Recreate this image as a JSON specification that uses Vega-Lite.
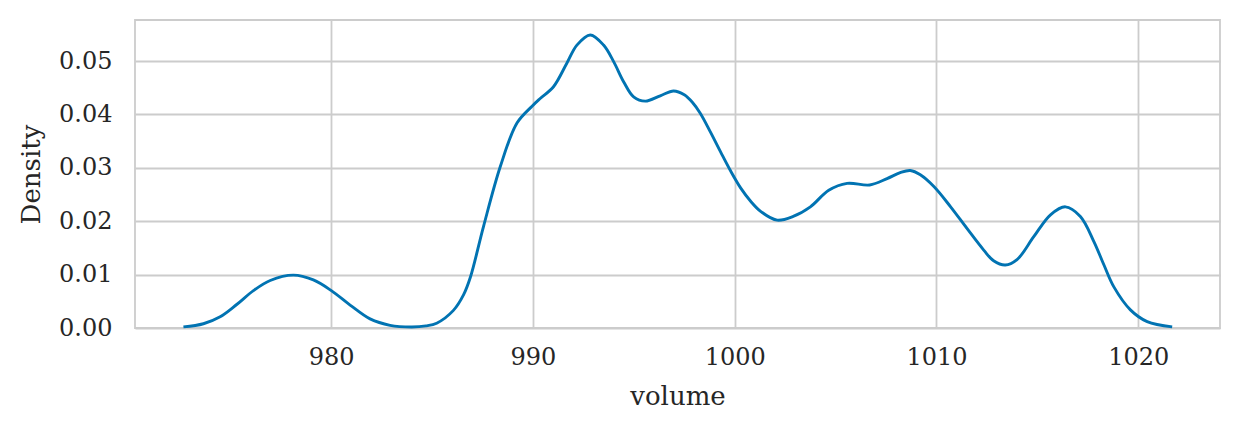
{
  "$schema": "https://vega.github.io/schema/vega-lite/v6.json",
  "width": 1085,
  "height": 308,
  "autosize": {"type": "none"},
  "padding": {"left": 135, "top": 20, "right": 20, "bottom": 104},
  "background": "white",
  "config": {
    "view": {"stroke": "#cccccc", "strokeWidth": 1.8},
    "font": "DejaVu Serif",
    "axis": {
      "domain": false,
      "ticks": false,
      "gridColor": "#cccccc",
      "gridWidth": 1.8,
      "labelFont": "DejaVu Serif",
      "labelFontSize": 24,
      "labelColor": "#262626",
      "titleFont": "DejaVu Serif",
      "titleFontSize": 26,
      "titleColor": "#262626",
      "titleFontWeight": "normal"
    }
  },
  "data": {
    "values": [
      {"volume": 972.68, "density": 0.0002},
      {"volume": 973.67, "density": 0.0008},
      {"volume": 974.5, "density": 0.0021},
      {"volume": 975.32, "density": 0.0044},
      {"volume": 976.15, "density": 0.007},
      {"volume": 976.98, "density": 0.0089},
      {"volume": 978.13, "density": 0.0099},
      {"volume": 979.12, "density": 0.009},
      {"volume": 980.01, "density": 0.007},
      {"volume": 980.94, "density": 0.0043},
      {"volume": 981.93, "density": 0.0017},
      {"volume": 982.92, "density": 0.0005},
      {"volume": 984.0, "density": 0.0002},
      {"volume": 984.7, "density": 0.0004},
      {"volume": 985.23, "density": 0.0009},
      {"volume": 986.06, "density": 0.0033},
      {"volume": 986.56, "density": 0.0062},
      {"volume": 986.9, "density": 0.0095},
      {"volume": 987.55, "density": 0.019},
      {"volume": 988.38, "density": 0.0302},
      {"volume": 989.21, "density": 0.0384},
      {"volume": 989.97, "density": 0.0416},
      {"volume": 990.36, "density": 0.043},
      {"volume": 991.02, "density": 0.0452},
      {"volume": 991.68, "density": 0.0496},
      {"volume": 992.18, "density": 0.053},
      {"volume": 992.84, "density": 0.0549},
      {"volume": 993.5, "density": 0.053},
      {"volume": 994.0, "density": 0.0499},
      {"volume": 994.5, "density": 0.0461},
      {"volume": 994.99, "density": 0.0433},
      {"volume": 995.57, "density": 0.0425},
      {"volume": 996.31, "density": 0.0435},
      {"volume": 996.97, "density": 0.0444},
      {"volume": 997.5, "density": 0.0437},
      {"volume": 997.9, "density": 0.0423},
      {"volume": 998.3, "density": 0.0402},
      {"volume": 998.8, "density": 0.0367},
      {"volume": 999.3, "density": 0.033},
      {"volume": 999.8, "density": 0.0294},
      {"volume": 1000.3, "density": 0.0262},
      {"volume": 1000.8, "density": 0.0237},
      {"volume": 1001.3, "density": 0.0218},
      {"volume": 1002.1, "density": 0.0202},
      {"volume": 1002.9, "density": 0.0209},
      {"volume": 1003.75, "density": 0.0227},
      {"volume": 1004.66, "density": 0.0258},
      {"volume": 1005.57, "density": 0.0271},
      {"volume": 1006.69, "density": 0.0268},
      {"volume": 1007.55, "density": 0.028},
      {"volume": 1008.2, "density": 0.0291},
      {"volume": 1008.7, "density": 0.0295},
      {"volume": 1009.2, "density": 0.0287},
      {"volume": 1009.87, "density": 0.0265},
      {"volume": 1010.7, "density": 0.0227},
      {"volume": 1011.5, "density": 0.0187},
      {"volume": 1012.34, "density": 0.0146},
      {"volume": 1012.83, "density": 0.0126},
      {"volume": 1013.41, "density": 0.0118},
      {"volume": 1013.99, "density": 0.0128},
      {"volume": 1014.82, "density": 0.0171},
      {"volume": 1015.65, "density": 0.0212},
      {"volume": 1016.39, "density": 0.0227},
      {"volume": 1017.13, "density": 0.0209},
      {"volume": 1017.8, "density": 0.0162},
      {"volume": 1018.3, "density": 0.0118},
      {"volume": 1018.79, "density": 0.0077},
      {"volume": 1019.61, "density": 0.0034},
      {"volume": 1020.44, "density": 0.0012},
      {"volume": 1021.68, "density": 0.0002}
    ]
  },
  "mark": {"type": "line", "color": "#0173b2", "strokeWidth": 2.9, "interpolate": "catmull-rom"},
  "encoding": {
    "x": {
      "field": "volume",
      "type": "quantitative",
      "scale": {"domain": [970.28, 1024.05], "nice": false, "zero": false},
      "axis": {"values": [980, 990, 1000, 1010, 1020], "title": "volume", "labelPadding": 17, "titlePadding": 14, "format": "d"}
    },
    "y": {
      "field": "density",
      "type": "quantitative",
      "scale": {"domain": [0, 0.0577], "nice": false},
      "axis": {"values": [0, 0.01, 0.02, 0.03, 0.04, 0.05], "format": ".2f", "title": "Density", "labelPadding": 23, "titlePadding": 14}
    }
  }
}
